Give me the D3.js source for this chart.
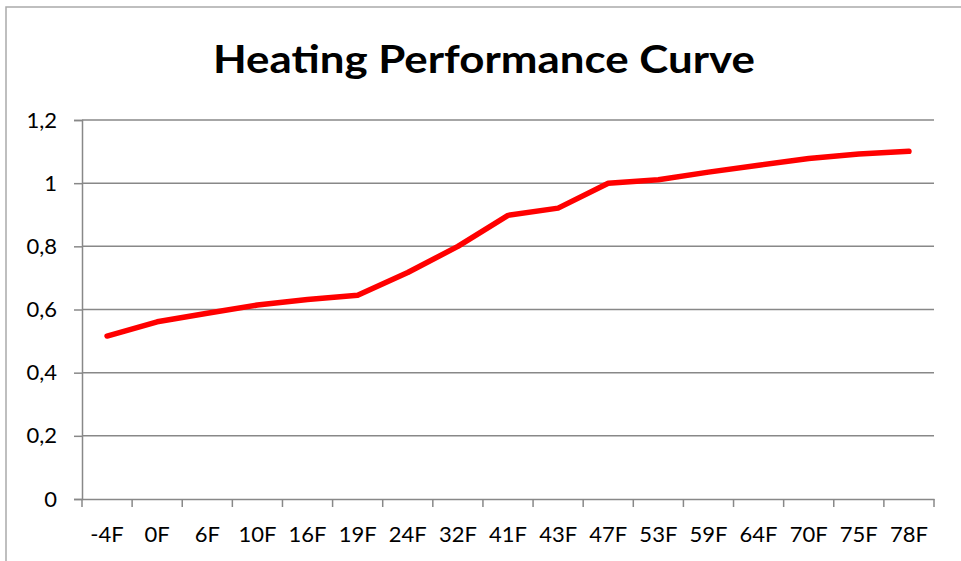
<!DOCTYPE html>
<html>
<head>
<meta charset="utf-8">
<script src="https://cdn.jsdelivr.net/npm/d3@7/dist/d3.min.js"></script>
<style>
html,body{margin:0;padding:0;background:#fff;}
svg{display:block;}
</style>
</head>
<body>
<svg id="chart" width="961" height="561"></svg>
<script>
const categories = ["-4F","0F","6F","10F","16F","19F","24F","32F","41F","43F","47F","53F","59F","64F","70F","75F","78F"];
const values = [0.516,0.561,0.588,0.614,0.632,0.645,0.717,0.800,0.898,0.921,1.0,1.011,1.035,1.057,1.078,1.092,1.101];
const yTicks = [0,0.2,0.4,0.6,0.8,1,1.2];
const title = "Heating Performance Curve";

const W = 961, H = 561;
const m = {left: 82, right: 27, top: 120, bottom: 62};
const svg = d3.select("#chart");
const font = "Lato, 'Open Sans', sans-serif";

svg.append("rect").attr("x",6).attr("y",7).attr("width",W+20).attr("height",H+20)
  .attr("fill","#fff").attr("stroke","#aaa").attr("stroke-width",1.5);

const x = d3.scaleBand().domain(categories).range([m.left, W - m.right]).paddingInner(0).paddingOuter(0);
const y = d3.scaleLinear().domain([0,1.2]).range([H - m.bottom, m.top]);

const loc = d3.formatLocale({decimal:",", thousands:".", grouping:[3], currency:["",""]});
const fmt = d => loc.format("~g")(d);

// gridlines
svg.append("g").selectAll("line").data(yTicks.filter(d=>d>0)).join("line")
  .attr("x1", m.left).attr("x2", W - m.right)
  .attr("y1", d=>y(d)).attr("y2", d=>y(d))
  .attr("stroke","#888").attr("stroke-width",1.5);

// y axis
const yAxis = d3.axisLeft(y).tickValues(yTicks).tickFormat(fmt).tickSize(8).tickPadding(17);
const gy = svg.append("g").attr("transform",`translate(${m.left},0)`).call(yAxis);
gy.select(".domain").attr("stroke","#888").attr("stroke-width",1.5);
gy.selectAll(".tick line").attr("stroke","#888").attr("stroke-width",1.5);
gy.selectAll(".tick text").attr("font-family",font).attr("font-size",22).attr("fill","#000");

// x axis
const xAxis = d3.axisBottom(x).tickSize(0).tickPadding(27);
const gx = svg.append("g").attr("transform",`translate(0,${H - m.bottom})`).call(xAxis);
gx.select(".domain").attr("stroke","#888").attr("stroke-width",1.5);
gx.selectAll(".tick text").attr("font-family",font).attr("font-size",22).attr("fill","#000");
// tick marks at category boundaries
const bounds = categories.map(c=>x(c)).concat([x(categories[categories.length-1]) + x.bandwidth()]);
gx.selectAll("line.bnd").data(bounds).join("line").attr("class","bnd")
  .attr("x1",d=>d).attr("x2",d=>d).attr("y1",0).attr("y2",8)
  .attr("stroke","#888").attr("stroke-width",1.5);

// line
const line = d3.line().x((d,i)=>x(categories[i]) + x.bandwidth()/2).y(d=>y(d));
svg.append("path").datum(values).attr("d",line)
  .attr("fill","none").attr("stroke","#ff0000").attr("stroke-width",5.5)
  .attr("stroke-linejoin","round").attr("stroke-linecap","round");

// title
svg.append("text").attr("x",484).attr("y",73).attr("text-anchor","middle")
  .attr("font-family",font).attr("font-weight","bold").attr("font-size",39)
  .attr("textLength",542).attr("lengthAdjust","spacingAndGlyphs")
  .text(title);
</script>
</body>
</html>
